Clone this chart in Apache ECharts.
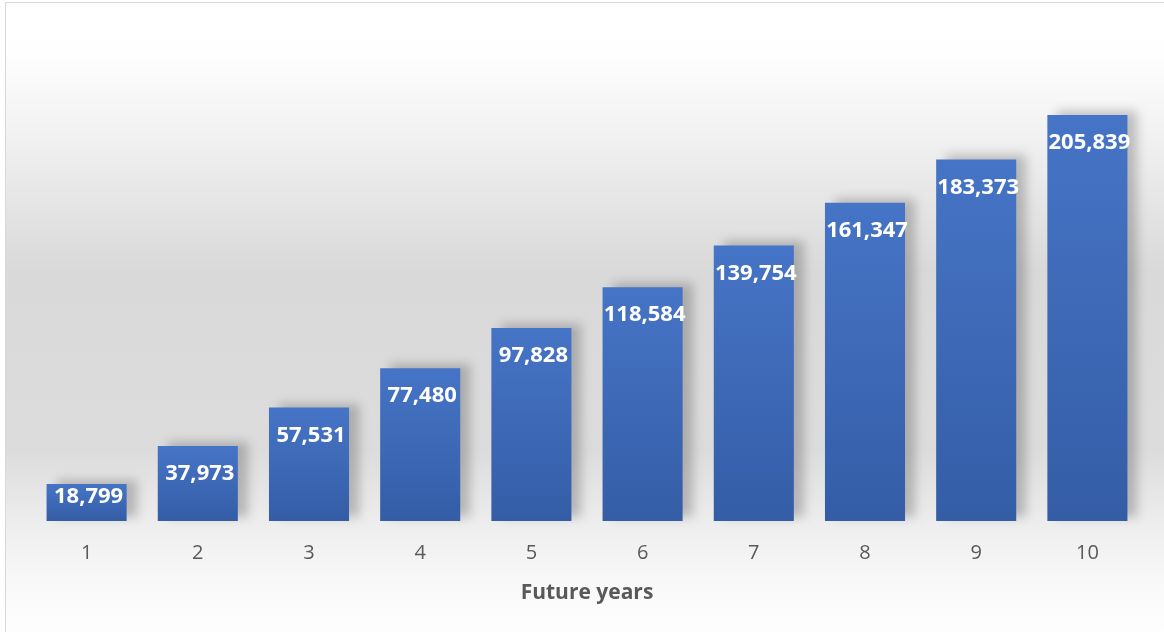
<!DOCTYPE html>
<html>
<head>
<meta charset="utf-8">
<script src="https://cdn.jsdelivr.net/npm/echarts@6/dist/echarts.min.js"></script>
<style>
html,body{margin:0;padding:0;background:#fff;}
#chart{width:1164px;height:632px;}
</style>
</head>
<body>
<div id="chart"></div>
<script>
const categories = ['1','2','3','4','5','6','7','8','9','10'];
const values = [18799, 37973, 57531, 77480, 97828, 118584, 139754, 161347, 183373, 205839];
const axisTitle = 'Future years';

const chart = echarts.init(document.getElementById('chart'));
chart.setOption({
  animation: false,
  graphic: [{
    type: 'rect',
    z: -10,
    shape: {x: 5.5, y: 2.5, width: 1170, height: 640},
    style: {
      stroke: '#d9d9d9', lineWidth: 1,
      fill: new echarts.graphic.LinearGradient(0, 0, 0, 1, [
        {offset: 0, color: '#ffffff'},
        {offset: 0.08, color: '#fefefe'},
        {offset: 0.2, color: '#f2f2f2'},
        {offset: 0.42, color: '#d9d9d9'},
        {offset: 0.7, color: '#dcdcdc'},
        {offset: 0.82, color: '#eeeeee'},
        {offset: 0.9, color: '#f8f8f8'},
        {offset: 1, color: '#ffffff'}
      ])
    }
  }],
  grid: {left: 31, right: 21, top: 28, bottom: 111, containLabel: false},
  xAxis: {
    type: 'category',
    data: categories,
    axisLine: {show: false},
    axisTick: {show: false},
    axisLabel: {color: '#595959', fontSize: 20, fontFamily: 'Open Sans', margin: 22},
    name: axisTitle,
    nameLocation: 'middle',
    nameGap: 62,
    nameTextStyle: {color: '#595959', fontSize: 21, fontWeight: 'bold', fontFamily: 'Open Sans'}
  },
  yAxis: {
    type: 'value',
    min: 0, max: 250000, interval: 50000,
    show: false,
    splitLine: {show: false}
  },
  series: [{
    type: 'bar',
    data: values.map((v, i) => i === 0 ? {value: v, label: {distance: 2}} : v),
    barCategoryGap: '28%',
    itemStyle: {
      color: new echarts.graphic.LinearGradient(0, 0, 0, 1, [
        {offset: 0, color: '#4674c6'},
        {offset: 1, color: '#345da6'}
      ]),
      shadowColor: 'rgba(0,0,0,0.22)',
      shadowBlur: 10,
      shadowOffsetX: 10,
      shadowOffsetY: -4
    },
    label: {
      show: true,
      position: 'insideTop',
      distance: 17,
      offset: [2, 0],
      color: '#ffffff',
      fontSize: 22,
      fontWeight: 'bold',
      fontFamily: 'Open Sans',
      formatter: p => p.value.toLocaleString('en-US')
    }
  }]
});
</script>
</body>
</html>
